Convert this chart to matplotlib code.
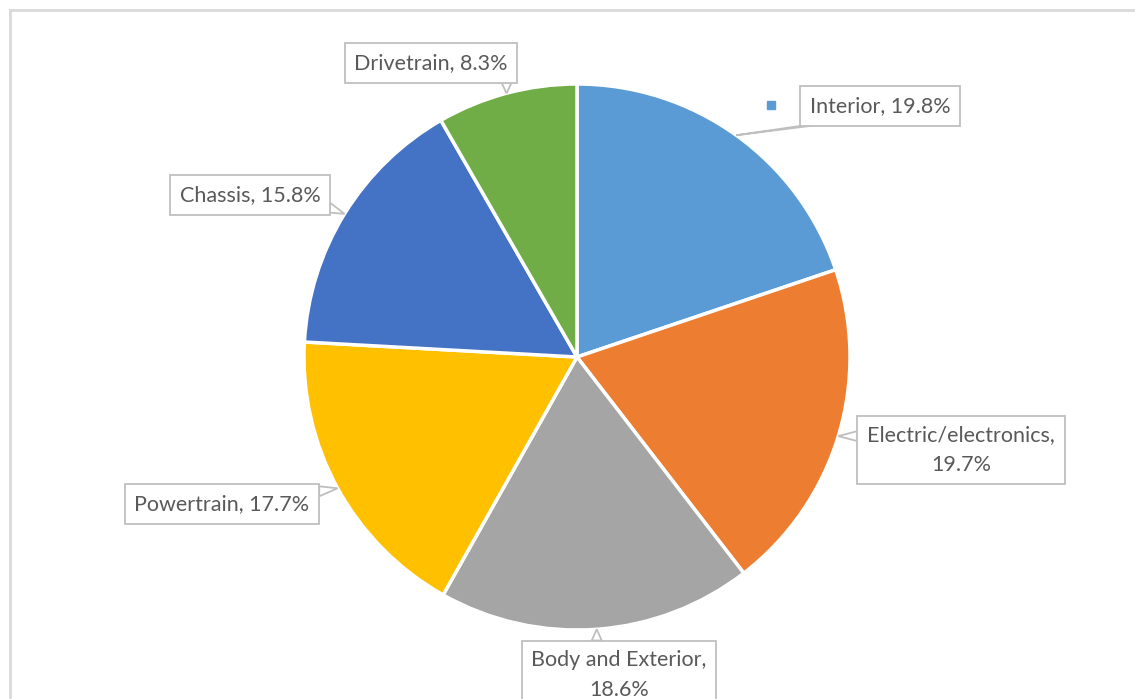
import numpy as np
import matplotlib
matplotlib.use("Agg")
import matplotlib.pyplot as plt
from matplotlib.patches import Polygon

categories = ["Interior", "Electric/electronics", "Body and Exterior",
              "Powertrain", "Chassis", "Drivetrain"]
shares = [19.8, 19.7, 18.6, 17.7, 15.8, 8.3]
label_texts = ["Interior, 19.8%", "Electric/electronics,\n19.7%",
               "Body and Exterior,\n18.6%", "Powertrain, 17.7%",
               "Chassis, 15.8%", "Drivetrain, 8.3%"]
colors = ["#5B9BD5", "#ED7D31", "#A5A5A5", "#FFC000", "#4472C4", "#70AD47"]

W, H = 1135, 699
cx, cy, R = 577, H - 357, 273

# label centres, pixel coords from top-left
label_pos = [(880, 106), (961, 450), (619, 675), (222, 504), (250, 195), (431, 63)]

fig = plt.figure(figsize=(W / 100, H / 100), dpi=100)
ax = fig.add_axes([0, 0, 1, 1])

wedges, _ = ax.pie(shares, colors=colors, startangle=90, counterclock=False,
                   center=(cx, cy), radius=R,
                   wedgeprops=dict(edgecolor="white", linewidth=2.5))
ax.set_xlim(0, W)
ax.set_ylim(0, H)
ax.set_aspect("equal")
ax.axis("off")

# chart area border (top and left only inside the canvas)
ax.plot([10, 10], [0, H - 10], color="#D9D9D9", lw=2, zorder=1, clip_on=False)
ax.plot([10, W], [H - 10, H - 10], color="#D9D9D9", lw=2, zorder=1, clip_on=False)

texts = []
for txt, (px, py) in zip(label_texts, label_pos):
    t = ax.text(px, H - py, txt, ha="center", va="center", fontsize=15.5,
                family="Lato", color="#595959", linespacing=1.6, zorder=5,
                bbox=dict(boxstyle="square,pad=0.45", fc="white",
                          ec="#BFBFBF", lw=1.3))
    texts.append(t)

fig.canvas.draw()
inv = ax.transData.inverted()
for w, t in zip(wedges, texts):
    mid = np.deg2rad((w.theta1 + w.theta2) / 2)
    tip = np.array([cx + R * np.cos(mid), cy + R * np.sin(mid)])
    ext = t.get_bbox_patch().get_window_extent()
    (x0, y0), (x1, y1) = inv.transform([[ext.x0, ext.y0], [ext.x1, ext.y1]])
    # nearest point of the box to the tip, then a short base along that edge
    nx = min(max(tip[0], x0), x1)
    ny = min(max(tip[1], y0), y1)
    half = 5
    if nx in (x0, x1) and y0 < ny < y1:
        ny = min(max(ny, y0 + half + 2), y1 - half - 2)
        base = [(nx, ny - half), (nx, ny + half)]
    else:
        nx = min(max(nx, x0 + half + 2), x1 - half - 2)
        base = [(nx - half, ny), (nx + half, ny)]
    poly = Polygon([base[0], tuple(tip), base[1]], closed=True, fc="white",
                   ec="#BFBFBF", lw=1.3, zorder=4)
    ax.add_patch(poly)

# small key marker beside the first label
ax.plot(771, H - 105, marker="s", ms=6, color=colors[0], zorder=5)

fig.savefig("out.png", dpi=100, facecolor="white")
